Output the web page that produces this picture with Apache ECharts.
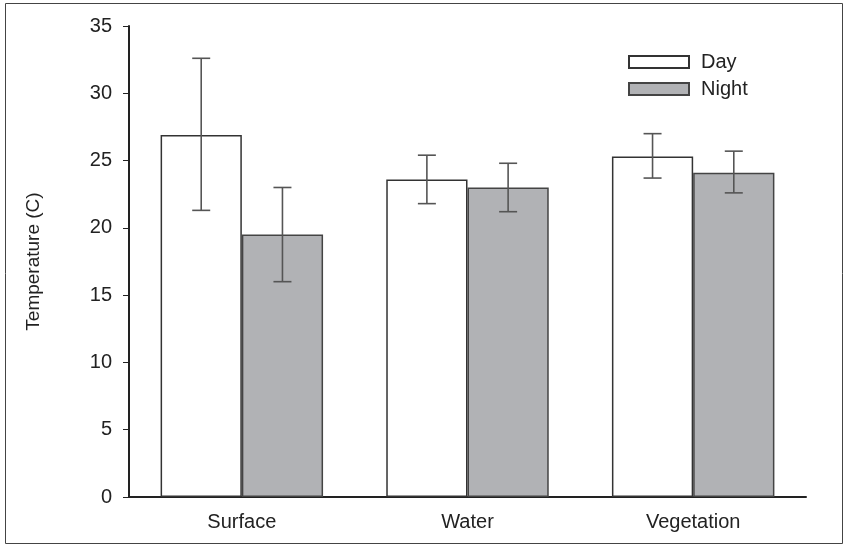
<!DOCTYPE html>
<html>
<head>
<meta charset="utf-8">
<script src="https://cdn.jsdelivr.net/npm/echarts@6/dist/echarts.min.js"></script>
<style>
  html, body { margin: 0; padding: 0; background: #fff; }
  #chart { width: 847px; height: 548px; }
</style>
</head>
<body>
<div id="chart"></div>
<script>
const categories = ['Surface', 'Water', 'Vegetation'];
const dayValues = [26.9, 23.6, 25.3];
const nightValues = [19.5, 23.0, 24.1];
// error bar ends [low, high]
const dayErr = [[21.3, 32.6], [21.8, 25.4], [23.7, 27.0]];
const nightErr = [[16.0, 23.0], [21.2, 24.8], [22.6, 25.7]];
const yTicks = [0, 5, 10, 15, 20, 25, 30, 35];

const catGap = 0.28;
const fontFam = '"Liberation Sans", Arial, sans-serif';

function errSeries(name, errs, side) {
	return {
		type: 'custom',
		name: name + ' err',
		z: 5,
		data: errs.map((e, i) => [i, e[0], e[1]]),
		encode: { x: 0, y: [1, 2] },
		renderItem: function (params, api) {
			let band = api.size([1, 0])[0];
			let bw = band * (1 - catGap) / 2;
			let lo = api.coord([api.value(0), api.value(1)]);
			let hi = api.coord([api.value(0), api.value(2)]);
			let x = lo[0] + side * bw / 2;
			let cap = 9;
			let style = { stroke: '#555', lineWidth: 1.6 };
			return {
				type: 'group',
				children: [
					{ type: 'line', shape: { x1: x, y1: lo[1], x2: x, y2: hi[1] }, style: style },
					{ type: 'line', shape: { x1: x - cap, y1: lo[1], x2: x + cap, y2: lo[1] }, style: style },
					{ type: 'line', shape: { x1: x - cap, y1: hi[1], x2: x + cap, y2: hi[1] }, style: style }
				]
			};
		}
	};
}

const chart = echarts.init(document.getElementById('chart'));
chart.setOption({
	animation: false,
	backgroundColor: '#fff',
	graphic: [{
		type: 'rect',
		shape: { x: 5.5, y: 3.5, width: 837, height: 540 },
		style: { fill: 'none', stroke: '#444', lineWidth: 1 },
		silent: true
	}],
	grid: { left: 129, top: 26, right: 41, bottom: 51 },
	legend: {
		data: ['Day', 'Night'],
		orient: 'vertical',
		left: 628,
		top: 52,
		padding: 0,
		itemWidth: 60,
		itemHeight: 12,
		itemGap: 7,
		icon: 'rect',
		textStyle: { fontFamily: fontFam, fontSize: 20, lineHeight: 20, color: '#222', padding: [0, 0, 0, 7] }
	},
	xAxis: {
		type: 'category',
		data: categories,
		axisLine: { lineStyle: { color: '#222', width: 2 } },
		axisTick: { alignWithLabel: true, length: 6, lineStyle: { color: '#222', width: 1 } },
		axisLabel: { fontFamily: fontFam, fontSize: 20, color: '#222', margin: 15 },
		splitLine: { show: false }
	},
	yAxis: {
		type: 'value',
		min: 0,
		max: 35,
		interval: 5,
		name: 'Temperature (C)',
		nameLocation: 'middle',
		nameGap: 86,
		nameTextStyle: { fontFamily: fontFam, fontSize: 19, color: '#222' },
		axisLine: { show: true, lineStyle: { color: '#222', width: 2 } },
		axisTick: { show: true, length: 6, lineStyle: { color: '#222', width: 1 } },
		axisLabel: {
			fontFamily: fontFam, fontSize: 20, color: '#222', margin: 17,
			formatter: v => yTicks.includes(v) ? String(v) : ''
		},
		splitLine: { show: false }
	},
	series: [
		{
			name: 'Day',
			type: 'bar',
			data: dayValues,
			barGap: '0%',
			barCategoryGap: (catGap * 100) + '%',
			itemStyle: { color: '#ffffff', borderColor: '#333', borderWidth: 1.5 }
		},
		{
			name: 'Night',
			type: 'bar',
			data: nightValues,
			itemStyle: { color: '#b1b2b5', borderColor: '#444', borderWidth: 1.5 }
		},
		errSeries('Day', dayErr, -1),
		errSeries('Night', nightErr, 1)
	]
});
</script>
</body>
</html>
